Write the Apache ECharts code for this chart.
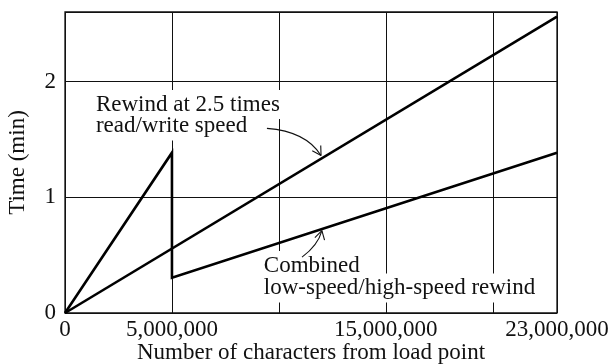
<!DOCTYPE html>
<html>
<head>
<meta charset="utf-8">
<script src="https://cdn.jsdelivr.net/npm/echarts@6/dist/echarts.min.js"></script>
<style>
  html, body { margin: 0; padding: 0; background: #fff; }
  #chart { width: 610px; height: 364px; }
</style>
</head>
<body>
<div id="chart"></div>
<script>
// Rewind time versus tape position
const rewindChars = [0, 23000000];
const rewindMinutes = [0, 2.56];
const combinedChars = [0, 5000000, 5000000, 23000000];
const combinedMinutes = [0, 1.385, 0.305, 1.385];
const xTickLabels = [0, 5000000, 15000000, 23000000];
const yTickLabels = [0, 1, 2];
const rewindNote = ['Rewind at 2.5 times', 'read/write speed'];
const combinedNote = ['Combined', 'low-speed/high-speed rewind'];

const FONT = '"Liberation Serif", "Times New Roman", serif';
const FONT_SIZE = 23;

// Where the notes and their pointer arrows sit, in axis units
const notesLayout = {
  rewind: {
    text: { x: 1.35e6, y: [1.80, 1.615] },
    arrow: { from: [9.44e6, 1.595], ctrl: [11.27e6, 1.569], to: [11.97e6, 1.36] }
  },
  combined: {
    text: { x: 9.2e6, y: [0.41, 0.215] },
    arrow: { from: [11.08e6, 0.483], ctrl: [11.83e6, 0.586], to: [12.01e6, 0.712] }
  }
};

const pairs = (xs, ys) => xs.map((x, i) => [x, ys[i]]);
const fmt = v => Number(v).toLocaleString('en-US');

const chart = echarts.init(document.getElementById('chart'), null, { renderer: 'canvas' });

chart.setOption({
  animation: false,
  backgroundColor: '#fff',
  grid: {
    left: 65, top: 12, right: 53, bottom: 51,
    outerBoundsMode: 'none', containLabel: false,
    show: true, borderColor: '#111', borderWidth: 1.3, backgroundColor: 'transparent'
  },
  xAxis: {
    type: 'value',
    min: 0, max: 23000000, interval: 5000000,
    name: 'Number of characters from load point',
    nameLocation: 'middle', nameGap: 28, nameMoveOverlap: false,
    nameTextStyle: { fontFamily: FONT, fontSize: FONT_SIZE, color: '#111' },
    axisLine: { show: false },
    axisTick: { show: false },
    axisLabel: {
      customValues: xTickLabels,
      formatter: v => fmt(v),
      fontFamily: FONT, fontSize: FONT_SIZE, color: '#111', margin: 5
    },
    splitLine: { show: true, lineStyle: { color: '#111', width: 1 } }
  },
  yAxis: {
    type: 'value',
    min: 0, max: 2.6, interval: 1,
    name: 'Time (min)',
    nameLocation: 'middle', nameGap: 36, nameRotate: 90, nameMoveOverlap: false,
    nameTextStyle: { fontFamily: FONT, fontSize: FONT_SIZE, color: '#111' },
    axisLine: { show: false },
    axisTick: { show: false },
    axisLabel: {
      customValues: yTickLabels,
      formatter: v => String(v),
      fontFamily: FONT, fontSize: FONT_SIZE, color: '#111', margin: 9
    },
    splitLine: { show: true, lineStyle: { color: '#111', width: 1 } }
  },
  series: [
    {
      name: 'Rewind at 2.5 times read/write speed',
      type: 'line', z: 3,
      data: pairs(rewindChars, rewindMinutes),
      showSymbol: false,
      lineStyle: { color: '#000', width: 2.6 }
    },
    {
      name: 'Combined low-speed/high-speed rewind',
      type: 'line', z: 3,
      data: pairs(combinedChars, combinedMinutes),
      showSymbol: false,
      lineStyle: { color: '#000', width: 2.6, join: 'miter' }
    }
  ]
});

// Notes with white boxes that break the grid lines, plus curved pointers
function buildNotes() {
  const toPx = p => chart.convertToPixel({ gridIndex: 0 }, p);
  const els = [];
  const addNote = (lines, layout) => {
    lines.forEach((line, i) => {
      const p = toPx([layout.text.x, layout.text.y[i]]);
      els.push({
        type: 'text', z: 1, silent: true,
        x: p[0], y: p[1],
        style: {
          text: line, font: FONT_SIZE + 'px ' + FONT, fill: '#111',
          verticalAlign: 'middle', align: 'left',
          backgroundColor: '#fff', padding: [3, 2, 3, 2]
        }
      });
    });
    const a = layout.arrow;
    const f = toPx(a.from), c = toPx(a.ctrl), t = toPx(a.to);
    els.push({
      type: 'bezierCurve', z: 4, silent: true,
      shape: { x1: f[0], y1: f[1], x2: t[0], y2: t[1], cpx1: c[0], cpy1: c[1] },
      style: { stroke: '#111', lineWidth: 1.1, fill: null }
    });
    const ang = Math.atan2(t[1] - c[1], t[0] - c[0]);
    const len = 10, spread = Math.PI / 6;
    [ang + Math.PI - spread, ang + Math.PI + spread].forEach(b => {
      els.push({
        type: 'line', z: 4, silent: true,
        shape: { x1: t[0], y1: t[1], x2: t[0] + len * Math.cos(b), y2: t[1] + len * Math.sin(b) },
        style: { stroke: '#111', lineWidth: 1.1 }
      });
    });
  };
  addNote(rewindNote, notesLayout.rewind);
  addNote(combinedNote, notesLayout.combined);
  chart.setOption({ graphic: { elements: els } });
}
buildNotes();
</script>
</body>
</html>
